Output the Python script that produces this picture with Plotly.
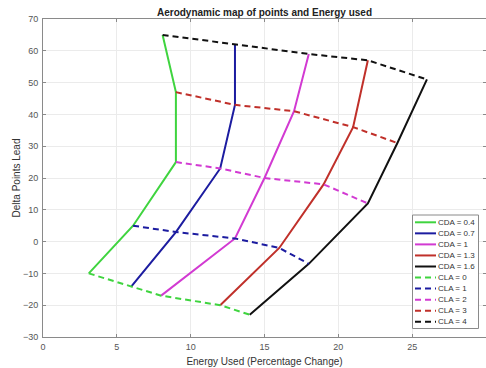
import plotly.graph_objects as go

# CDA curves (solid); each lists points at CLA = 0,1,2,3,4
cda_labels = ["CDA = 0.4", "CDA = 0.7", "CDA = 1", "CDA = 1.3", "CDA = 1.6"]
cla_labels = ["CLA = 0", "CLA = 1", "CLA = 2", "CLA = 3", "CLA = 4"]
energy = [
    [3.1, 6.1, 9.0, 9.0, 8.1],
    [6.0, 9.0, 12.0, 13.0, 13.0],
    [8.0, 13.0, 15.0, 17.0, 18.0],
    [12.0, 16.0, 19.0, 21.0, 22.0],
    [14.0, 18.0, 22.0, 24.0, 26.0],
]
points = [
    [-10, 5, 25, 47, 65],
    [-14, 3, 23, 43, 62],
    [-17, 1, 20, 41, 59],
    [-20, -2, 18, 36, 57],
    [-23, -7, 12, 31, 51],
]
x_ticks = [0, 5, 10, 15, 20, 25, 30]
y_ticks = [-30, -20, -10, 0, 10, 20, 30, 40, 50, 60, 70]

colors = ["#3fd43f", "#1c1ca0", "#d23ad2", "#c0302a", "#111111"]
DASH = "6px,4px"

W, H = 486, 368
L, R, T, B = 43, 0, 19, 31
PW, PH = W - L - R, H - T - B


def px_x(px):
    return (px - L) / PW


def px_y(py):
    return (H - B - py) / PH


fig = go.Figure()
for i, lab in enumerate(cda_labels):
    fig.add_trace(go.Scatter(x=energy[i], y=points[i], mode="lines", name=lab,
                             line=dict(color=colors[i], width=2), showlegend=False))
for j, lab in enumerate(cla_labels):
    fig.add_trace(go.Scatter(x=[energy[i][j] for i in range(5)],
                             y=[points[i][j] for i in range(5)],
                             mode="lines", name=lab, showlegend=False,
                             line=dict(color=colors[j], width=2, dash=DASH)))

# legend box (MATLAB style, compact)
entries = [(lab, colors[i], "solid") for i, lab in enumerate(cda_labels)] + \
          [(lab, colors[j], DASH) for j, lab in enumerate(cla_labels)]
shapes = [dict(type="rect", xref="paper", yref="paper",
               x0=px_x(412.5), x1=px_x(478.5), y0=px_y(328.5), y1=px_y(215),
               line=dict(color="#8a8a8a", width=1), fillcolor="white", layer="above")]
annotations = []
y0, step = 222.3, 11.05
for k, (lab, col, dash) in enumerate(entries):
    yy = px_y(y0 + k * step)
    shapes.append(dict(type="line", xref="paper", yref="paper",
                       x0=px_x(415), x1=px_x(436), y0=yy, y1=yy,
                       line=dict(color=col, width=2, dash=dash), layer="above"))
    annotations.append(dict(xref="paper", yref="paper", x=px_x(436), y=yy,
                            text=lab, showarrow=False, xanchor="left", yanchor="middle",
                            font=dict(family="Liberation Sans, Arial", size=8, color="#333333")))

axis_common = dict(showgrid=True, gridcolor="#ebebeb", gridwidth=1, zeroline=False,
                   showline=True, linecolor="#8a8a8a", linewidth=1, mirror="ticks",
                   ticks="inside", ticklen=3, tickcolor="#8a8a8a",
                   tickfont=dict(family="Liberation Sans, Arial", size=9, color="#555555"))

fig.update_layout(
    width=W, height=H,
    margin=dict(l=L, r=R, t=T, b=B, autoexpand=False),
    paper_bgcolor="white", plot_bgcolor="white",
    title=dict(text="<b>Aerodynamic map of points and Energy used</b>",
               x=(L + W - R) / 2 / W, xanchor="center", y=1 - 12 / H, yanchor="middle",
               font=dict(family="Liberation Sans, Arial", size=10, color="#222222")),
    xaxis=dict(range=[0, 30], tickvals=x_ticks, ticklabelstandoff=1,
               title=dict(text="Energy Used (Percentage Change)", standoff=7,
                          font=dict(family="Liberation Sans, Arial", size=10, color="#333333")),
               **axis_common),
    yaxis=dict(range=[-30, 70], tickvals=y_ticks, ticklabelstandoff=2,
               title=dict(text="Delta Points Lead", standoff=0,
                          font=dict(family="Liberation Sans, Arial", size=10, color="#333333")),
               **axis_common),
    shapes=shapes,
    annotations=annotations,
    showlegend=False,
)

fig.write_html("out.html", post_script="document.body.style.margin='0';",
               config={"displayModeBar": False})
